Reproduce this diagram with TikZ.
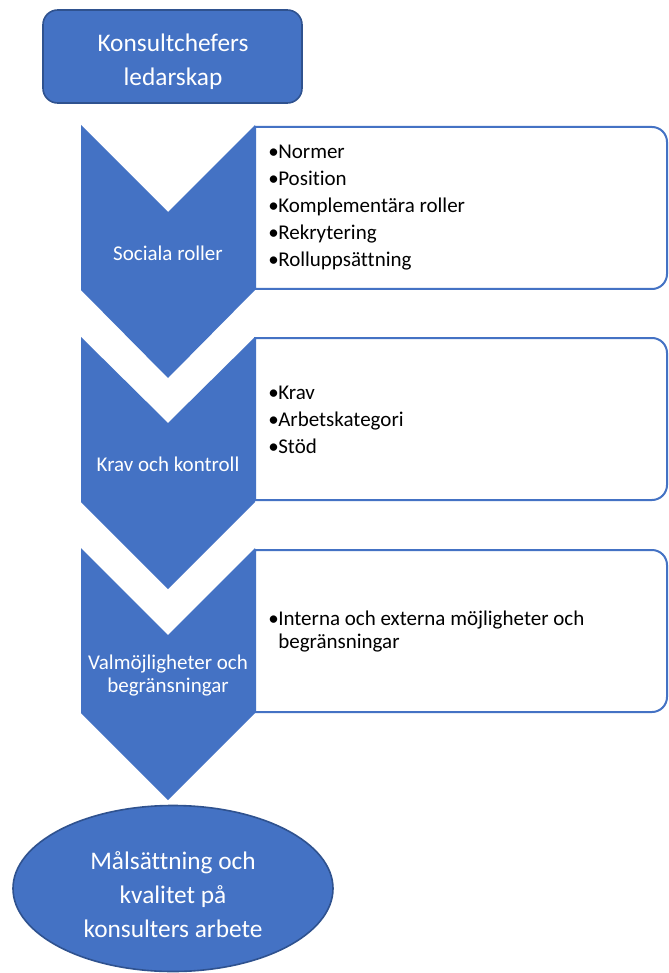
\documentclass[tikz,border=0pt]{standalone}
\usepackage{fontspec}
\setmainfont{Carlito}[Ligatures={NoCommon}]
\usetikzlibrary{shapes.geometric}
\definecolor{accent}{HTML}{4472C4}
\definecolor{accentdark}{HTML}{2F528F}
\newcommand\bl{\makebox[7.5pt][l]{•}}
\begin{document}
\begin{tikzpicture}[x=0.75pt,y=-0.75pt,
  chev/.style={fill=accent,draw=none},
  listbox/.style={draw=accent,line width=1.5pt,fill=white},
  chevtext/.style={text=white,font=\fontsize{15.75}{17.25}\selectfont,align=center,inner sep=0pt},
  bigtext/.style={text=white,font=\fontsize{19}{25.5}\selectfont,align=center,inner sep=0pt},
  listtext/.style={anchor=west,inner sep=0pt,text=black,font=\fontsize{15.75}{20.25}\selectfont,align=left}]
\useasboundingbox (0,0) rectangle (668,973);
\fill[white] (0,0) rectangle (668,973);

% top box
\node[draw=accentdark,fill=accent,line width=1.2pt,rounded corners=11pt,
      minimum width=194.25pt,minimum height=69.75pt] (lead) at (172.5,56.5) {};
\node[bigtext] (leadtext) at (173,61.5) {Konsultchefers\\ledarskap};

% list boxes
\draw[listbox] (255,127) -- (652,127) arc[start angle=90,end angle=0,radius=11.25pt]
  -- (667,274) arc[start angle=0,end angle=-90,radius=11.25pt] -- (255,289) -- cycle;
\draw[listbox] (255,338) -- (652,338) arc[start angle=90,end angle=0,radius=11.25pt]
  -- (667,485) arc[start angle=0,end angle=-90,radius=11.25pt] -- (255,500) -- cycle;
\draw[listbox] (255,550) -- (652,550) arc[start angle=90,end angle=0,radius=11.25pt]
  -- (667,697) arc[start angle=0,end angle=-90,radius=11.25pt] -- (255,712) -- cycle;

% chevrons
\fill[chev] (81,125) -- (168,212) -- (255,125) -- (255,290) -- (168,378) -- (81,290) -- cycle;
\fill[chev] (81,337) -- (168,423) -- (255,337) -- (255,502) -- (168,589) -- (81,502) -- cycle;
\fill[chev] (81,548) -- (168,635) -- (255,548) -- (255,713) -- (168,800) -- (81,713) -- cycle;

\node[chevtext] (c1) at (168,253) {Sociala roller};
\node[chevtext] (c2) at (168,464) {Krav och kontroll};
\node[chevtext] (c3) at (168,676) {Valmöjligheter och\\begränsningar};

% list texts
\node[listtext] (l1) at (268,208) {\bl Normer\\\bl Position\\\bl Komplementära roller\\\bl Rekrytering\\\bl Rolluppsättning};
\node[listtext] (l2) at (268,420) {\bl Krav\\\bl Arbetskategori\\\bl Stöd};
\node[listtext,font=\fontsize{15.75}{17.25}\selectfont] (l3) at (268,632) {\bl Interna och externa möjligheter och\\\hspace*{7.5pt}begränsningar};

% goal ellipse
\node[ellipse,draw=accentdark,fill=accent,line width=1.2pt,inner sep=0pt,
      minimum width=240pt,minimum height=124.5pt] (goal) at (173,888.5) {};
\node[bigtext] (goaltext) at (173,895) {Målsättning och\\kvalitet på\\konsulters arbete};
\end{tikzpicture}
\end{document}
